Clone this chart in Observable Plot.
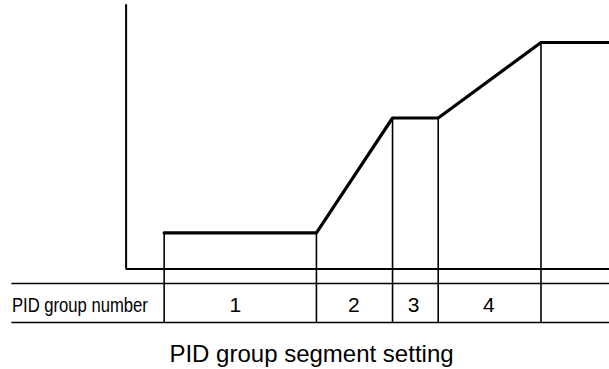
<!DOCTYPE html>
<html>
<head>
<meta charset="utf-8">
<script src="https://cdn.jsdelivr.net/npm/d3@7"></script>
<script src="https://cdn.jsdelivr.net/npm/@observablehq/plot@0.6"></script>
<style>
  html, body { margin: 0; padding: 0; background: #fff; }
  #chart svg { display: block; }
  #caption { font-family: "Liberation Sans", Arial, sans-serif; font-size: 24px; color: #000; text-align: center; width: 609px; box-sizing: border-box; padding-left: 14px; margin-top: 10px; line-height: normal; }
</style>
</head>
<body>
<div id="chart"></div>
<div id="caption">PID group segment setting</div>
<script>
// Profile: time (x) vs setpoint (y)
const profileTime  = [1, 5, 7, 8.2, 10.9, 12.7];
const profileValue = [24, 24, 100, 100, 150, 150];
// Segment boundaries (vertical dividers) and their setpoint levels
const boundaryTime  = [1, 5, 7, 8.2, 10.9];
const boundaryValue = [24, 24, 100, 100, 150];
// PID group numbers shown in the table row
const groupLabels = ["1", "2", "3", "4"];
const groupLabelTime = [2.87, 5.98, 7.55, 9.53];
const rowTitle = "PID group number";

// layout constants
const xMin = -3.3, xMax = 12.7, tableStart = -3.0;
const yMin = -40.7, yMax = 177.8, axisTop = 175;
const rowTop = -9.6, rowBottom = -35.4, rowMid = -23.8;

const profile = profileTime.map((t, i) => ({t, v: profileValue[i]}));
const bounds = boundaryTime.map((t, i) => ({t, v: boundaryValue[i]}));
const labels = groupLabels.map((s, i) => ({t: groupLabelTime[i], s}));

const chart = Plot.plot({
  width: 609,
  height: 330,
  marginTop: 0, marginBottom: 0, marginLeft: 0, marginRight: 0,
  x: {domain: [xMin, xMax], axis: null},
  y: {domain: [yMin, yMax], axis: null},
  style: {background: "#fff", overflow: "visible"},
  marks: [
    // table row lines
    Plot.ruleY([rowTop, rowBottom], {x1: tableStart, x2: xMax, stroke: "#000", strokeWidth: 1.6}),
    // segment dividers
    Plot.ruleX(bounds, {x: "t", y1: rowBottom, y2: "v", stroke: "#000", strokeWidth: 1.6}),
    // axes
    Plot.ruleX([0], {y1: 0, y2: axisTop, stroke: "#000", strokeWidth: 2}),
    Plot.ruleY([0], {x1: 0, x2: xMax, stroke: "#000", strokeWidth: 2}),
    // profile
    Plot.line(profile, {x: "t", y: "v", stroke: "#000", strokeWidth: 3.2, strokeLinejoin: "miter"}),
    // row title
    Plot.text([rowTitle], {x: tableStart, y: rowMid, text: d => d, textAnchor: "start",
      fontFamily: "'Liberation Sans', Arial, sans-serif", fontSize: 21, fill: "#000", className: "rowtitle"}),
    // group numbers
    Plot.text(labels, {x: "t", y: rowMid, text: "s", textAnchor: "middle",
      fontFamily: "'Liberation Sans', Arial, sans-serif", fontSize: 21, fill: "#000"})
  ]
});
// condensed look for the row title
d3.select(chart).selectAll(".rowtitle text")
  .attr("textLength", 136)
  .attr("lengthAdjust", "spacingAndGlyphs");
document.getElementById("chart").appendChild(chart);
</script>
</body>
</html>
